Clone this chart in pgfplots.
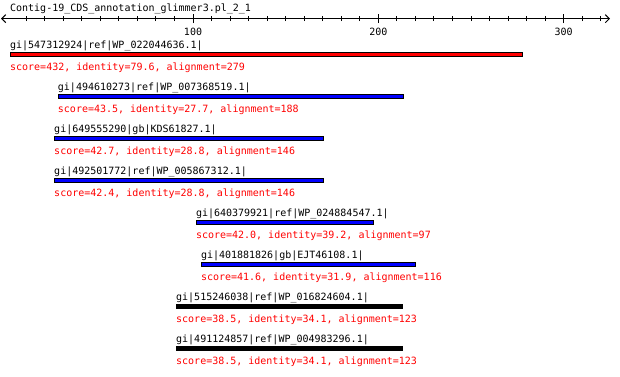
\documentclass[border=0pt]{standalone}
\usepackage{fontspec}
\setmonofont{DejaVu Sans Mono}
\usepackage{pgfplots}
\pgfplotsset{compat=1.18}
\usetikzlibrary{arrows.meta}
\definecolor{hitred}{RGB}{255,0,0}
\definecolor{hitblue}{RGB}{0,0,255}
\begin{document}
\begin{tikzpicture}
\begin{axis}[
  scale only axis,
  width=609pt, height=377pt,
  xmin=-3.6, xmax=325,
  ymin=-358.3, ymax=18.7,
  clip=false,
  axis x line=middle,
  axis y line=none,
  axis line style={line width=1pt, arrows={Straight Barb[length=4pt,width=8pt]-Straight Barb[length=4pt,width=8pt]}},
  xtick={100,200,300},
  xticklabels={100,200,300},
  minor xtick={10,20,30,40,50,60,70,80,90,110,120,130,140,150,160,170,180,190,210,220,230,240,250,260,270,280,290,310,320},
  tick align=center,
  major tick length=9pt,
  minor tick length=5pt,
  every tick/.style={black, line width=1pt},
  minor tick style={black, line width=1pt},
  xticklabel style={font=\ttfamily, anchor=base, inner sep=0pt, yshift=-12pt},
]
% bars
\addplot[draw=black, line width=1pt, fill=hitred] coordinates {(1.3,-33.8) (278,-33.8) (278,-37.8) (1.3,-37.8)} -- cycle;
\addplot[draw=black, line width=1pt, fill=hitblue] coordinates {(27.3,-75.8) (213.7,-75.8) (213.7,-79.8) (27.3,-79.8)} -- cycle;
\addplot[draw=black, line width=1pt, fill=hitblue] coordinates {(25.3,-117.8) (170.3,-117.8) (170.3,-121.8) (25.3,-121.8)} -- cycle;
\addplot[draw=black, line width=1pt, fill=hitblue] coordinates {(25.3,-159.8) (170.3,-159.8) (170.3,-163.8) (25.3,-163.8)} -- cycle;
\addplot[draw=black, line width=1pt, fill=hitblue] coordinates {(101.8,-201.8) (197.5,-201.8) (197.5,-205.8) (101.8,-205.8)} -- cycle;
\addplot[draw=black, line width=1pt, fill=hitblue] coordinates {(104.5,-243.8) (220.1,-243.8) (220.1,-247.8) (104.5,-247.8)} -- cycle;
\addplot[draw=black, line width=1pt, fill=black] coordinates {(91.1,-285.8) (213.1,-285.8) (213.1,-289.8) (91.1,-289.8)} -- cycle;
\addplot[draw=black, line width=1pt, fill=black] coordinates {(91.1,-327.8) (213.1,-327.8) (213.1,-331.8) (91.1,-331.8)} -- cycle;
% texts
\tikzset{lab/.style={anchor=base west, inner sep=0pt, font=\ttfamily}, sc/.style={lab, text=hitred}}
\node[lab] at (axis cs:1.2,6.7) {Contig-19\_CDS\_annotation\_glimmer3.pl\_2\_1};
\node[lab] at (axis cs:1.2,-30.3) {gi|547312924|ref|WP\_022044636.1|};
\node[sc]  at (axis cs:1.2,-51.8) {score=432, identity=79.6, alignment=279};
\node[lab] at (axis cs:27,-72.3) {gi|494610273|ref|WP\_007368519.1|};
\node[sc]  at (axis cs:27,-93.8) {score=43.5, identity=27.7, alignment=188};
\node[lab] at (axis cs:25,-114.3) {gi|649555290|gb|KDS61827.1|};
\node[sc]  at (axis cs:25,-135.8) {score=42.7, identity=28.8, alignment=146};
\node[lab] at (axis cs:25,-156.3) {gi|492501772|ref|WP\_005867312.1|};
\node[sc]  at (axis cs:25,-177.8) {score=42.4, identity=28.8, alignment=146};
\node[lab] at (axis cs:101.5,-198.3) {gi|640379921|ref|WP\_024884547.1|};
\node[sc]  at (axis cs:101.5,-219.8) {score=42.0, identity=39.2, alignment=97};
\node[lab] at (axis cs:104.2,-240.3) {gi|401881826|gb|EJT46108.1|};
\node[sc]  at (axis cs:104.2,-261.8) {score=41.6, identity=31.9, alignment=116};
\node[lab] at (axis cs:90.8,-282.3) {gi|515246038|ref|WP\_016824604.1|};
\node[sc]  at (axis cs:90.8,-303.8) {score=38.5, identity=34.1, alignment=123};
\node[lab] at (axis cs:90.8,-324.3) {gi|491124857|ref|WP\_004983296.1|};
\node[sc]  at (axis cs:90.8,-345.8) {score=38.5, identity=34.1, alignment=123};
\path (axis cs:-4.16,18.7) rectangle (axis cs:330.4,-358.3);
\end{axis}
\end{tikzpicture}
\end{document}
